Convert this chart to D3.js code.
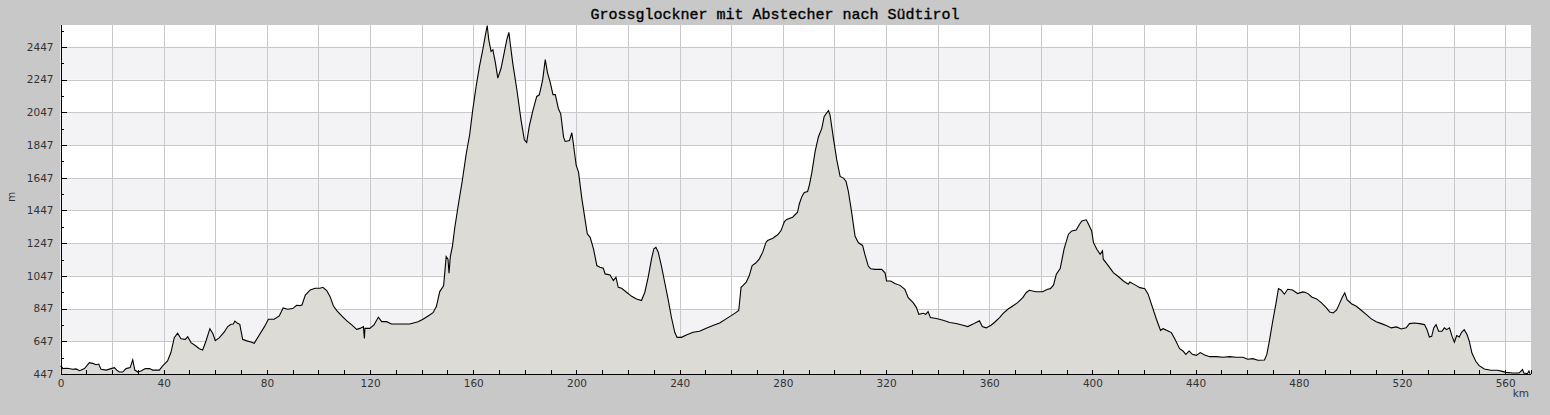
<!DOCTYPE html>
<html><head><meta charset="utf-8">
<script src="https://cdn.jsdelivr.net/npm/d3@7"></script>
<style>
html,body{margin:0;padding:0;background:#c8c8c8;}
svg{display:block;}
</style></head>
<body>
<script>
const title = "Grossglockner mit Abstecher nach Südtirol";
const xLabel = "km";
const yLabel = "m";
const yTickValues = [447, 647, 847, 1047, 1247, 1447, 1647, 1847, 2047, 2247, 2447];
const xTickLabels = [0, 40, 80, 120, 160, 200, 240, 280, 320, 360, 400, 440, 480, 520, 560];

const distKm = [0,0.5,0.9,2.5,4.8,6,7.4,9.3,11.2,12.5,13.8,14.8,15.7,17.7,19.6,20.9,21.8,22.8,24.1,25.4,27,28,28.8,30,31.2,32.9,34.5,35.7,38.3,39.6,41.5,42.8,44.1,45.4,46.7,48.4,49.3,50.6,52.5,53.8,55.1,56.4,57.9,59,60,61.6,63.5,64.8,66.1,67,67.6,68.6,69.5,70.6,71.9,73.8,75.1,77,79,80.6,82.8,84.8,86.3,88,90,91.5,92.8,93.6,94.9,96.8,98.7,100.6,101.7,103.2,104.5,105.8,107.1,109,110.9,112.9,114.8,116.1,117.4,117.8,118,119.9,121.5,123.2,124.5,126.4,128.3,131.5,135.4,138.6,140.5,142.5,144.4,145.7,147,148.5,149.5,150.2,150.6,151.1,151.9,152.8,154.1,155.7,157.3,158.6,159.8,161.1,162.4,163.7,164.6,165.4,166,166.9,167.6,168.6,169.5,170.8,172.1,173,173.8,174.3,175.3,176.9,178.5,179.8,180.7,181.7,183,184.6,185.6,186.9,187.9,188.8,189.8,190.9,191.8,193,193.9,195,195.6,197.3,198.2,198.8,199.9,200.8,202.1,203.3,204.2,205.3,206.6,207.9,209.1,210.4,211.1,213,214.3,215.3,216.2,217.5,219.4,221.4,223.3,225.2,226.5,227.8,229.1,230,230.8,231.7,232.9,234.2,235.5,236.8,238.1,239,240.7,242.6,245.2,247.7,250.3,252.9,255.5,258,260,261.9,262.9,263.8,264.5,265.8,267,268.1,269.4,270.9,272.2,273.5,274.1,276.1,278,279.3,280.6,281.5,283.8,285.7,286.4,287.4,288.3,289.6,290.3,291.2,292.5,293.8,295.1,296,297,297.7,298.3,299.6,300.9,302.2,303.5,304.5,305.4,306.7,308,309.3,310.9,311.8,313.1,314,315.7,318.3,319.6,320.2,321.8,323.4,325.4,327.3,328.6,330.5,331.8,332.7,334.4,335.4,336.3,337.2,339.5,342.1,344.7,347.2,349.8,351.7,353.7,354.9,356.2,357.3,358.8,360.7,362,364,365.3,367.2,369.1,371,373,374.3,375.5,378.1,380.7,382.6,383.7,384.9,386,387.5,389,390.7,392,393.7,395,395.9,397.6,398.5,399.7,400.4,401.7,403,403.9,404.2,406.2,408.1,410,412,413.9,414.5,416.5,418.4,420.3,421.6,422.9,424.8,426.4,427.4,429.3,430.6,431.9,433.8,435.1,436.2,437.5,438.7,440.3,441.8,443.5,445.4,448,450.6,453.2,455.7,458.3,460.2,462.2,464.1,466.7,467.6,468.6,469.9,471.2,472.1,473.1,474.4,475.7,477.6,479.5,481.5,482.4,483.7,485,486.9,488.8,490.7,492,493.3,494.6,495.9,496.9,497.8,498.7,500.4,502.3,504.2,506.2,508.1,510,512,513.9,515.8,517.8,519.7,521.6,522.9,524.8,526.8,528.7,529.7,530.6,531.5,532.3,533.2,534.2,535.5,536.4,537.3,538.4,539.4,540.3,541.2,542.2,543.1,544.1,545.2,546.1,547.1,548.6,549.9,551.9,554.4,557,558.9,560.2,562.8,565.4,566.7,567.2,568.6,569.2,569.6];

const elevM = [495,490,480,482,476,478,467,480,516,512,504,508,476,471,480,486,471,459,459,480,486,533,471,459,465,480,480,471,471,496,527,578,669,696,663,659,675,639,618,602,594,649,724,696,651,669,704,737,751,753,771,757,751,659,651,643,635,684,735,782,782,802,851,843,847,867,865,869,930,961,971,971,977,957,920,863,835,802,773,747,720,726,737,665,726,726,747,794,767,767,753,753,753,767,782,802,822,859,951,986,1165,1149,1063,1165,1226,1338,1471,1624,1797,1910,2063,2205,2328,2430,2511,2578,2491,2420,2430,2348,2256,2318,2420,2491,2536,2471,2348,2185,2001,1879,1863,1961,2052,2144,2154,2246,2369,2287,2232,2155,2155,2069,2038,1895,1869,1875,1922,1855,1722,1681,1518,1396,1304,1283,1212,1110,1100,1094,1059,1053,1018,1039,977,971,947,922,906,896,947,1039,1151,1212,1222,1192,1110,1008,906,794,702,671,671,686,702,708,727,743,759,784,804,824,835,977,988,1008,1049,1110,1124,1151,1192,1253,1263,1277,1298,1324,1379,1392,1406,1436,1488,1533,1557,1563,1604,1675,1807,1898,1949,2020,2044,2057,2030,1888,1756,1655,1645,1624,1563,1432,1289,1249,1233,1178,1107,1091,1087,1087,1066,1016,1016,1001,989,965,914,883,853,812,818,812,829,792,786,776,762,756,745,737,752,762,772,737,729,745,762,792,816,843,863,883,914,944,959,950,950,965,969,990,1057,1092,1210,1302,1322,1328,1363,1383,1390,1363,1322,1251,1210,1179,1200,1149,1108,1067,1043,1016,996,1010,992,975,969,935,873,782,714,724,710,700,663,602,588,567,588,567,561,578,563,553,553,549,553,549,549,537,541,531,533,567,649,771,884,969,961,935,965,961,939,949,947,937,918,906,882,851,826,820,837,882,918,943,902,877,861,837,810,784,767,755,743,729,735,722,729,755,759,755,749,718,673,677,729,749,708,708,729,718,729,677,641,682,673,702,718,688,647,575,525,498,478,470,470,463,457,453,453,474,453,449,465,449];

const W = 1550, H = 415;
const plot = {left: 60.5, right: 1531, top: 25, bottom: 374};
const x = d3.scaleLinear().domain([0, 570]).range([plot.left, plot.right]);
const y = d3.scaleLinear().domain([447, 2581]).range([plot.bottom, plot.top]);

const svg = d3.select("body").append("svg").attr("width", W).attr("height", H);
svg.append("rect").attr("width", W).attr("height", H).attr("fill", "#c8c8c8");

// plot background
svg.append("rect").attr("x", plot.left).attr("y", plot.top)
  .attr("width", plot.right - plot.left).attr("height", plot.bottom - plot.top).attr("fill", "#ffffff");

// alternating bands
const bandStarts = yTickValues.slice(0, -1);
svg.append("g").selectAll("rect").data(bandStarts.filter((d, i) => i % 2 === 1)).join("rect")
  .attr("x", plot.left).attr("width", plot.right - plot.left)
  .attr("y", d => y(d + 200)).attr("height", d => y(d) - y(d + 200))
  .attr("fill", "#f3f2f5");

// grid
const grid = svg.append("g").attr("stroke", "#c8c8c8").attr("stroke-width", 1).attr("shape-rendering", "crispEdges");
grid.selectAll(".v").data(d3.range(20, 570, 20)).join("line")
  .attr("x1", d => Math.round(x(d)) + 0.5).attr("x2", d => Math.round(x(d)) + 0.5)
  .attr("y1", plot.top).attr("y2", plot.bottom);
grid.selectAll(".h").data(yTickValues.slice(1)).join("line")
  .attr("x1", plot.left).attr("x2", plot.right)
  .attr("y1", d => Math.round(y(d)) + 0.5).attr("y2", d => Math.round(y(d)) + 0.5);

// profile
const pts = distKm.map((d, i) => [d, elevM[i]]);
svg.append("path").datum(pts)
  .attr("fill", "#dcdbd6")
  .attr("d", d3.area().x(d => x(d[0])).y0(y(447)).y1(d => y(d[1])));
svg.append("path").datum(pts)
  .attr("fill", "none").attr("stroke", "#000").attr("stroke-width", 1.1)
  .attr("d", d3.line().x(d => x(d[0])).y(d => y(d[1])));

// y axis
const yAxisG = svg.append("g").attr("transform", `translate(${plot.left},0)`);
yAxisG.call(d3.axisLeft(y).tickValues(yTickValues).tickSize(-6).tickPadding(7).tickFormat(d3.format("d")));
const yMinor = svg.append("g").attr("transform", `translate(${plot.left},0)`);
yMinor.call(d3.axisLeft(y).tickValues(yTickValues.map(v => v + 100)).tickSize(-3).tickFormat(""));
yMinor.select(".domain").remove();

// x axis
const xAxisG = svg.append("g").attr("transform", `translate(0,${plot.bottom})`);
xAxisG.call(d3.axisBottom(x).tickValues(d3.range(0, 571, 10)).tickSize(-4).tickPadding(6)
  .tickFormat(d => xTickLabels.includes(d) ? String(d) : ""));

[yAxisG, yMinor, xAxisG].forEach(g => {
  g.selectAll("text").attr("font-family", "DejaVu Sans").attr("font-size", 10.5).attr("fill", "#333");
  g.selectAll("line").attr("stroke", "#000").attr("shape-rendering", "crispEdges");
  g.select(".domain").attr("stroke", "#000").attr("shape-rendering", "crispEdges");
});
yAxisG.select(".domain").attr("d", `M0.5,${plot.top}V${plot.bottom}`);
xAxisG.select(".domain").attr("d", `M${plot.left},0.5H${plot.right}`);

// labels
svg.append("text").attr("x", 775).attr("y", 18.5).attr("text-anchor", "middle")
  .attr("font-family", "Liberation Mono").attr("font-size", 15).attr("fill", "#000")
  .attr("stroke", "#000").attr("stroke-width", 0.35).text(title);
svg.append("text").attr("x", 1529).attr("y", 397).attr("text-anchor", "end")
  .attr("font-family", "DejaVu Sans").attr("font-size", 10.5).attr("fill", "#333").text(xLabel);
svg.append("text").attr("transform", "translate(15,197) rotate(-90)").attr("text-anchor", "middle")
  .attr("font-family", "DejaVu Sans").attr("font-size", 10.5).attr("fill", "#333").text(yLabel);
</script>
</body></html>
